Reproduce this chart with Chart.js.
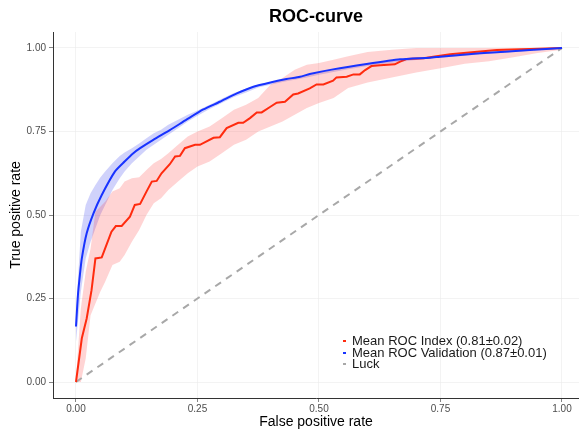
<!DOCTYPE html>
<html>
<head>
<meta charset="utf-8">
<script src="https://cdn.jsdelivr.net/npm/chart.js@4/dist/chart.umd.min.js"></script>
<style>
  html, body { margin: 0; padding: 0; background: #fff; }
  #wrap { position: relative; width: 579px; height: 431px; font-family: "Liberation Sans", Arial, sans-serif; }
  #title { position: absolute; left: 216px; width: 200px; top: 6px; text-align: center; font-weight: bold; font-size: 18px; color: #000; }
  #legend { position: absolute; left: 341px; top: 335px; font-size: 13px; line-height: 11.5px; color: #1a1a1a; }
  #legend div { position: relative; padding-left: 11px; white-space: nowrap; }
  #legend span { position: absolute; left: 2px; top: 5px; width: 3px; height: 2px; }
</style>
</head>
<body>
<div id="wrap">
  <canvas id="roc" width="579" height="431"></canvas>
  <div id="title">ROC-curve</div>
  <div id="legend"></div>
</div>
<script>
// mean ROC of the index set (red)
const fprIndex = [0, 0.012, 0.022, 0.032, 0.04, 0.053, 0.06, 0.073, 0.082, 0.094, 0.111, 0.121, 0.132, 0.145, 0.156, 0.166, 0.176, 0.193, 0.204, 0.214, 0.224, 0.245, 0.255, 0.283, 0.296, 0.31, 0.334, 0.344, 0.358, 0.372, 0.382, 0.40, 0.413, 0.43, 0.447, 0.457, 0.481, 0.495, 0.509, 0.529, 0.536, 0.557, 0.571, 0.584, 0.595, 0.608, 0.626, 0.656, 0.667, 0.68, 0.715, 0.735, 0.77, 0.82, 0.866, 0.934, 1.0];
const tprIndex = [0, 0.131, 0.19, 0.275, 0.37, 0.373, 0.40, 0.45, 0.467, 0.467, 0.495, 0.53, 0.533, 0.57, 0.60, 0.602, 0.625, 0.652, 0.675, 0.677, 0.70, 0.71, 0.71, 0.731, 0.733, 0.76, 0.776, 0.776, 0.79, 0.807, 0.807, 0.824, 0.836, 0.839, 0.861, 0.864, 0.879, 0.891, 0.891, 0.902, 0.912, 0.914, 0.921, 0.921, 0.934, 0.946, 0.948, 0.951, 0.959, 0.967, 0.969, 0.974, 0.981, 0.988, 0.994, 0.997, 1.0];

// mean ROC of the validation set (blue)
const fprValid = [0, 0.004, 0.008, 0.012, 0.022, 0.036, 0.053, 0.08, 0.1, 0.118, 0.132, 0.159, 0.193, 0.228, 0.262, 0.296, 0.331, 0.365, 0.40, 0.433, 0.461, 0.481, 0.529, 0.598, 0.667, 0.728, 0.749, 0.831, 0.934, 1.0];
const tprValid = [0.166, 0.26, 0.32, 0.37, 0.445, 0.505, 0.56, 0.63, 0.66, 0.685, 0.70, 0.725, 0.754, 0.786, 0.816, 0.839, 0.864, 0.884, 0.897, 0.907, 0.914, 0.922, 0.936, 0.952, 0.966, 0.971, 0.974, 0.984, 0.994, 1.0];

// ribbons (± sd)
const bandFpr   = [0, 0.01, 0.02, 0.03, 0.04, 0.05, 0.06, 0.075, 0.09, 0.1, 0.115, 0.13, 0.145, 0.16, 0.175, 0.19, 0.21, 0.23, 0.25, 0.275, 0.3, 0.325, 0.35, 0.375, 0.4, 0.425, 0.45, 0.475, 0.5, 0.53, 0.56, 0.6, 0.65, 0.7, 0.75, 0.8, 0.85, 0.9, 0.95, 1.0];
const indexLow  = [0, 0.0, 0.07, 0.20, 0.235, 0.27, 0.30, 0.35, 0.36, 0.38, 0.42, 0.455, 0.50, 0.535, 0.55, 0.575, 0.60, 0.625, 0.645, 0.66, 0.685, 0.71, 0.725, 0.75, 0.765, 0.78, 0.80, 0.82, 0.835, 0.85, 0.88, 0.897, 0.912, 0.927, 0.939, 0.953, 0.96, 0.972, 0.985, 0.995];
const indexHigh = [0.01, 0.22, 0.33, 0.40, 0.51, 0.525, 0.54, 0.57, 0.58, 0.60, 0.61, 0.613, 0.635, 0.655, 0.668, 0.685, 0.71, 0.735, 0.75, 0.765, 0.79, 0.815, 0.83, 0.85, 0.89, 0.91, 0.935, 0.95, 0.955, 0.965, 0.975, 0.988, 0.995, 1.0, 1.0, 1.0, 1.0, 1.0, 1.0, 1.0];
const validLow  = [0.12, 0.27, 0.37, 0.42, 0.46, 0.50, 0.53, 0.575, 0.61, 0.63, 0.655, 0.675, 0.695, 0.71, 0.725, 0.74, 0.76, 0.78, 0.797, 0.817, 0.835, 0.853, 0.867, 0.882, 0.89, 0.898, 0.905, 0.912, 0.92, 0.928, 0.936, 0.946, 0.956, 0.964, 0.971, 0.977, 0.983, 0.988, 0.993, 0.998];
const validHigh = [0.21, 0.45, 0.53, 0.565, 0.59, 0.612, 0.63, 0.655, 0.677, 0.687, 0.70, 0.714, 0.73, 0.745, 0.755, 0.77, 0.785, 0.80, 0.813, 0.83, 0.848, 0.865, 0.878, 0.891, 0.898, 0.905, 0.912, 0.918, 0.926, 0.934, 0.942, 0.952, 0.962, 0.969, 0.976, 0.982, 0.987, 0.992, 0.996, 1.0];

const luckFpr = [0, 1];
const luckTpr = [0, 1];

const axisTicks = [0, 0.25, 0.5, 0.75, 1];
const legendLabels = ['Mean ROC Index (0.81\u00b10.02)', 'Mean ROC Validation (0.87\u00b10.01)', 'Luck'];

const RED  = '#ff2b0f';
const BLUE = '#1833ff';
const GREY = '#a8a8a8';

function pts(xs, ys) { return xs.map((x, i) => ({ x: x, y: ys[i] })); }

function ribbon(data, color, fill) {
    return { data: data, borderWidth: 0, pointRadius: 0, backgroundColor: color, fill: fill, tension: 0 };
}

const legendEl = document.getElementById('legend');
[RED, BLUE, GREY].forEach((c, i) => {
    const row = document.createElement('div');
    row.innerHTML = '<span style="background:' + c + '"></span>' + legendLabels[i];
    legendEl.appendChild(row);
});

const tickFont = { family: '"Liberation Sans", Arial, sans-serif', size: 10 };
const titleFont = { family: '"Liberation Sans", Arial, sans-serif', size: 14 };

new Chart(document.getElementById('roc').getContext('2d'), {
    type: 'line',
    data: {
        datasets: [
            { data: pts(fprValid, tprValid), borderColor: BLUE, borderWidth: 2, pointRadius: 0, tension: 0.2, fill: false, order: 0 },
            { data: pts(fprIndex, tprIndex), borderColor: RED, borderWidth: 2, pointRadius: 0, tension: 0, fill: false, order: 1 },
            { data: pts(luckFpr, luckTpr), borderColor: GREY, borderWidth: 2, borderDash: [7, 6], pointRadius: 0, fill: false, order: 2 },
            Object.assign(ribbon(pts(bandFpr, indexHigh), 'rgba(255,40,40,0.2)', '+1'), { order: 3 }),
            Object.assign(ribbon(pts(bandFpr, indexLow), 'rgba(0,0,0,0)', false), { order: 4 }),
            Object.assign(ribbon(pts(bandFpr, validHigh), 'rgba(40,50,235,0.22)', '+1'), { order: 5 }),
            Object.assign(ribbon(pts(bandFpr, validLow), 'rgba(0,0,0,0)', false), { order: 6 }),
        ]
    },
    options: {
        responsive: false, animation: false,
        layout: { padding: { top: 32, right: 0, left: 0, bottom: 0 } },
        plugins: { legend: { display: false }, tooltip: { enabled: false }, title: { display: false } },
        scales: {
            x: {
                type: 'linear', min: -0.0473, max: 1.035,
                afterBuildTicks: s => { s.ticks = axisTicks.map(v => ({ value: v })); },
                afterFit: s => { s.height = 33; },
                ticks: { font: tickFont, color: '#4d4d4d', padding: 1, maxRotation: 0, callback: v => v.toFixed(2) },
                grid: { color: '#ebebeb', lineWidth: 0.6, tickColor: '#333', tickLength: 4 },
                border: { display: true, color: '#333', width: 1 },
                title: { display: true, text: 'False positive rate', font: titleFont, color: '#000', padding: { top: 0, bottom: 0 } }
            },
            y: {
                type: 'linear', min: -0.0479, max: 1.0479,
                afterBuildTicks: s => { s.ticks = axisTicks.map(v => ({ value: v })); },
                afterFit: s => { s.width = 53; },
                ticks: { font: tickFont, color: '#4d4d4d', padding: 3, callback: v => v.toFixed(2) },
                grid: { color: '#ebebeb', lineWidth: 0.6, tickColor: '#333', tickLength: 4 },
                border: { display: true, color: '#333', width: 1 },
                title: { display: true, text: 'True positive rate', font: titleFont, color: '#000', padding: { top: 8, bottom: 0 } }
            }
        }
    }
});
</script>
</body>
</html>
